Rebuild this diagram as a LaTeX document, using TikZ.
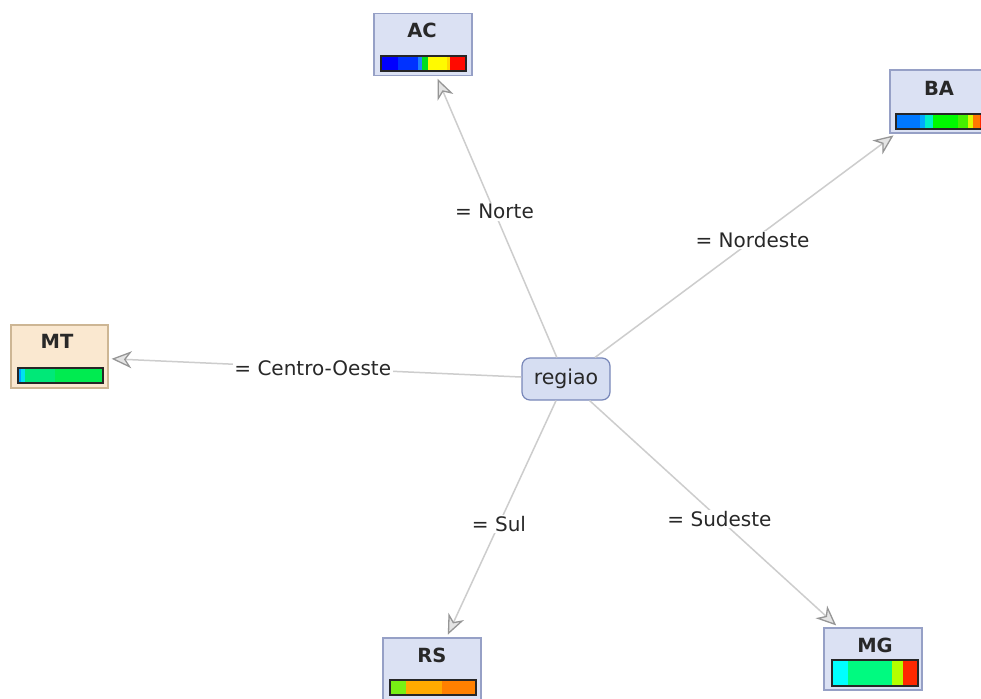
\documentclass[tikz,border=0pt]{standalone}
\usepackage{fontspec}
\setmainfont{DejaVu Sans}
\usetikzlibrary{arrows.meta,calc}
\definecolor{boxfill}{RGB}{219,225,243}
\definecolor{boxline}{RGB}{150,160,198}
\definecolor{mtfill}{RGB}{250,232,208}
\definecolor{mtline}{RGB}{205,182,148}
\definecolor{rfill}{RGB}{214,222,242}
\definecolor{rline}{RGB}{120,135,185}
\definecolor{edgec}{RGB}{205,205,205}
\definecolor{tipc}{RGB}{150,150,150}
\definecolor{tipf}{RGB}{228,228,228}
\definecolor{txt}{RGB}{40,40,40}
% bar colours
\definecolor{acA}{RGB}{0,0,255}\definecolor{acB}{RGB}{0,50,255}\definecolor{acC}{RGB}{30,130,255}
\definecolor{acD}{RGB}{0,220,30}\definecolor{acE}{RGB}{255,250,0}\definecolor{acF}{RGB}{255,215,0}
\definecolor{acG}{RGB}{255,10,0}
\definecolor{baA}{RGB}{0,120,255}\definecolor{baB}{RGB}{0,170,255}\definecolor{baC}{RGB}{0,240,200}
\definecolor{baD}{RGB}{0,250,0}\definecolor{baE}{RGB}{70,240,0}\definecolor{baF}{RGB}{220,250,0}
\definecolor{baG}{RGB}{255,120,0}\definecolor{baH}{RGB}{255,40,0}
\definecolor{mtA}{RGB}{0,160,255}\definecolor{mtB}{RGB}{0,225,240}\definecolor{mtC}{RGB}{0,232,120}
\definecolor{mtD}{RGB}{0,235,80}
\definecolor{mgA}{RGB}{0,255,255}\definecolor{mgB}{RGB}{0,250,128}\definecolor{mgC}{RGB}{180,255,0}
\definecolor{mgD}{RGB}{255,40,0}
\definecolor{rsA}{RGB}{120,240,20}\definecolor{rsB}{RGB}{255,170,0}\definecolor{rsC}{RGB}{255,128,0}
\newcommand{\mybar}[5]{%
  \foreach \a/\b/\c in {#5}{%
    \fill[\c] ({#1+\a*(#3-#1)},#2) rectangle ({#1+\b*(#3-#1)},#4);}
  \draw[line width=1.3pt, black!85] (#1,#2) rectangle (#3,#4);}
\begin{document}
\begin{tikzpicture}[x=1pt,y=-1pt,
  leaf/.style={draw=boxline, fill=boxfill, line width=1.2pt, minimum width=98pt,
    minimum height=62pt, inner sep=0pt},
  mtleaf/.style={leaf, draw=mtline, fill=mtfill},
  title/.style={font=\fontsize{19.5}{22}\selectfont\bfseries, text=txt, inner sep=0pt},
  root/.style={draw=rline, fill=rfill, line width=1.2pt, rounded corners=8pt,
    minimum width=88pt, minimum height=42pt, inner sep=0pt,
    font=\fontsize{20.5}{23}\selectfont, text=txt},
  conn/.style={draw=edgec, line width=1.5pt, shorten >=3pt,
    -{Stealth[length=20pt, width=17pt, inset=6pt, line width=1.3pt, color=tipc, fill=tipf]}},
  elabel/.style={fill=white, inner sep=1.5pt, font=\fontsize{20}{23}\selectfont, text=txt}]
\useasboundingbox (0,0) rectangle (981,698);
\fill[white] (0,0) rectangle (981,698);

% nodes
\node[root] (regiao) at (566,379) {regiao};
\node[leaf] (AC) at (423,44.5) {};
\node[leaf, minimum height=63pt] (BA) at (939,101.5) {};
\node[mtleaf, minimum width=97pt, minimum height=63pt] (MT) at (59.5,356.5) {};
\node[leaf] (RS) at (432,669) {};
\node[leaf] (MG) at (873,659) {};

% connectors
\draw[conn] (regiao) -- (AC);
\draw[conn] (regiao) -- (BA);
\draw[conn] (regiao) -- (MT);
\draw[conn] (regiao) -- (RS);
\draw[conn] (regiao) -- (MG);

% connector labels
\node[elabel] (lN)  at ($(regiao)!.5!(AC)$) {= Norte};
\node[elabel] (lNE) at ($(regiao)!.5!(BA)$) {= Nordeste};
\node[elabel] (lCO) at ($(regiao)!.5!(MT)$) {= Centro-Oeste};
\node[elabel] (lS)  at ($(regiao)!.5!(RS)$) {= Sul};
\node[elabel] (lSE) at ($(regiao)!.5!(MG)$) {= Sudeste};

% titles
\node[title] (ACt) at (422,30) {AC};
\node[title] (BAt) at (939,88) {BA};
\node[title] (MTt) at (57,341) {MT};
\node[title] (RSt) at (432,655) {RS};
\node[title] (MGt) at (875,645) {MG};

% colour bars
\mybar{381}{56}{466}{71}{0/.205/acA,.205/.433/acB,.433/.48/acC,.48/.55/acD,.55/.78/acE,.78/.815/acF,.815/1/acG}
\mybar{896}{114}{985}{129}{0/.27/baA,.27/.326/baB,.326/.416/baC,.416/.697/baD,.697/.809/baE,.809/.865/baF,.865/.944/baG,.944/1/baH}
\mybar{18}{368}{103}{383}{0/.04/mtA,.04/.087/mtB,.087/.44/mtC,.44/1/mtD}
\mybar{390}{680}{476}{695}{0/.183/rsA,.183/.603/rsB,.603/1/rsC}
\mybar{832}{660}{918}{686}{0/.185/mgA,.185/.70/mgB,.70/.83/mgC,.83/1/mgD}
\end{tikzpicture}
\end{document}
